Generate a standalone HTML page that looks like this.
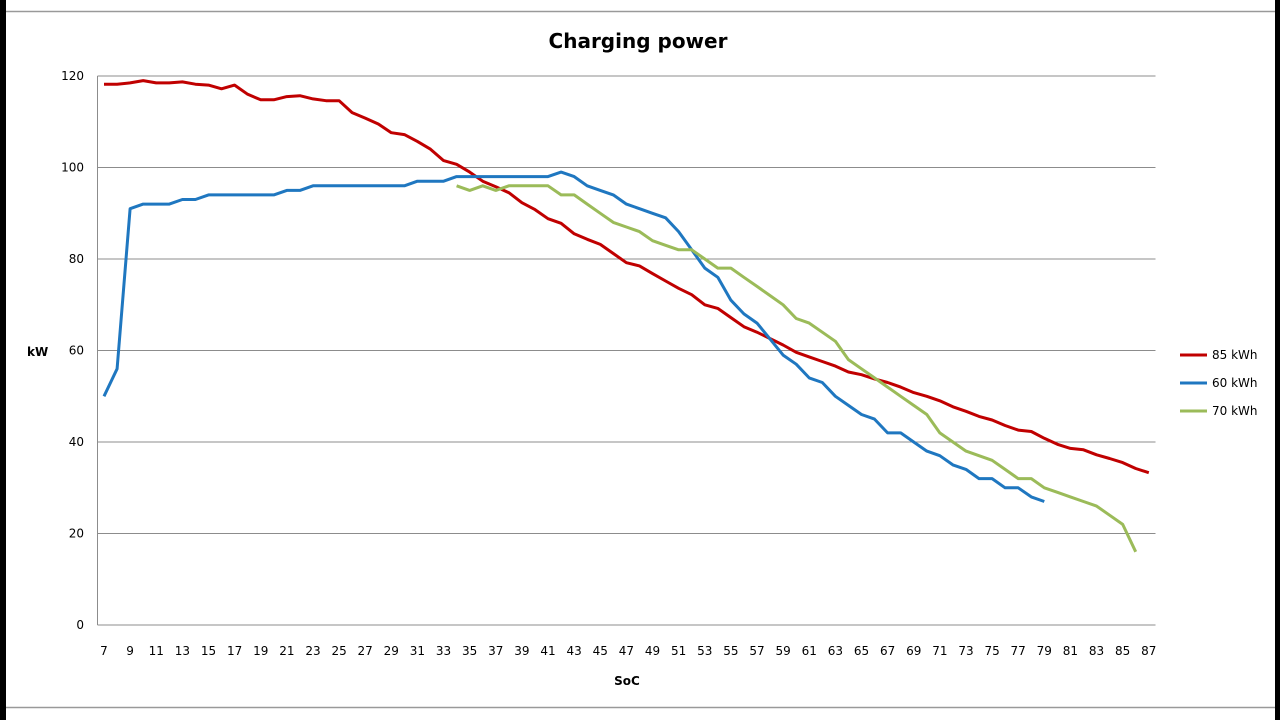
<!DOCTYPE html>
<html><head><meta charset="utf-8"><style>
body{margin:0;background:#fff;}
svg{display:block;font-family:"DejaVu Sans","Liberation Sans",sans-serif;}
</style></head><body>
<svg id="s" width="1280" height="720" xmlns="http://www.w3.org/2000/svg">
<rect x="0" y="0" width="1280" height="720" fill="#fff"/>
<rect x="0" y="0" width="6" height="720" fill="#000"/>
<rect x="1275" y="0" width="5" height="720" fill="#000"/>
<line x1="6" y1="11.5" x2="1275" y2="11.5" stroke="#999" stroke-width="1.5"/>
<line x1="6" y1="707.5" x2="1275" y2="707.5" stroke="#999" stroke-width="1.5"/>
<text x="638" y="48" font-size="20" font-weight="bold" text-anchor="middle" fill="#000">Charging power</text>
<text x="27" y="356" font-size="12" font-weight="bold">kW</text>
<text x="627" y="685" font-size="12" font-weight="bold" text-anchor="middle">SoC</text>
<g id="g"></g>
<g font-size="12" fill="#000">
<line x1="1180" y1="355" x2="1207" y2="355" stroke="#c00000" stroke-width="3"/>
<text x="1212" y="359">85 kWh</text>
<line x1="1180" y1="383" x2="1207" y2="383" stroke="#1f77c0" stroke-width="3"/>
<text x="1212" y="387">60 kWh</text>
<line x1="1180" y1="411" x2="1207" y2="411" stroke="#9bbb59" stroke-width="3"/>
<text x="1212" y="415">70 kWh</text>
</g>
</svg>
<script>
var g=document.getElementById('g'),h='';
var L=97.5,R=1155.5,T=76,B=625;
function X(s){return 104+(s-7)*13.06;}
function Y(v){return 625-v*4.575;}
for(var v=0;v<=120;v+=20){var y=Y(v);h+='<line x1="'+L+'" y1="'+y+'" x2="'+R+'" y2="'+y+'" stroke="#8c8c8c" stroke-width="1"/>';
h+='<text x="84" y="'+(y+4)+'" font-size="12" text-anchor="end">'+v+'</text>';}
h+='<line x1="'+L+'" y1="'+T+'" x2="'+L+'" y2="'+B+'" stroke="#8c8c8c"/>';
for(var s=7;s<=87;s+=2){h+='<text x="'+X(s)+'" y="655" font-size="12" text-anchor="middle">'+s+'</text>';}
var red=[118.2,118.2,118.5,119,118.5,118.5,118.7,118.2,118,117.2,118,116,114.8,114.8,115.5,115.7,115,114.6,114.6,112,110.8,109.5,107.6,107.2,105.7,104,101.5,100.7,99,97,95.8,94.5,92.3,90.8,88.8,87.8,85.5,84.3,83.2,81.2,79.2,78.5,76.8,75.2,73.6,72.2,70,69.2,67.2,65.2,64,62.6,61.2,59.6,58.6,57.6,56.6,55.3,54.7,53.8,53,52,50.8,50,49,47.7,46.7,45.6,44.8,43.6,42.6,42.3,40.8,39.5,38.6,38.3,37.2,36.4,35.5,34.2,33.3];
var blue=[50,56,91,92,92,92,93,93,94,94,94,94,94,94,95,95,96,96,96,96,96,96,96,96,97,97,97,98,98,98,98,98,98,98,98,99,98,96,95,94,92,91,90,89,86,82,78,76,71,68,66,62.5,59,57,54,53,50,48,46,45,42,42,40,38,37,35,34,32,32,30,30,28,27];
var green=[96,95,96,95,96,96,96,96,94,94,92,90,88,87,86,84,83,82,82,80,78,78,76,74,72,70,67,66,64,62,58,56,54,52,50,48,46,42,40,38,37,36,34,32,32,30,29,28,27,26,24,22,16];
function pl(d,s0,c){var p=[];for(var i=0;i<d.length;i++)p.push(X(s0+i).toFixed(1)+','+Y(d[i]).toFixed(1));
return '<polyline points="'+p.join(' ')+'" fill="none" stroke="'+c+'" stroke-width="3" stroke-linejoin="round"/>';}
h+=pl(red,7,'#c00000');h+=pl(blue,7,'#1f77c0');h+=pl(green,34,'#9bbb59');
g.innerHTML=h;
</script>
</body></html>
